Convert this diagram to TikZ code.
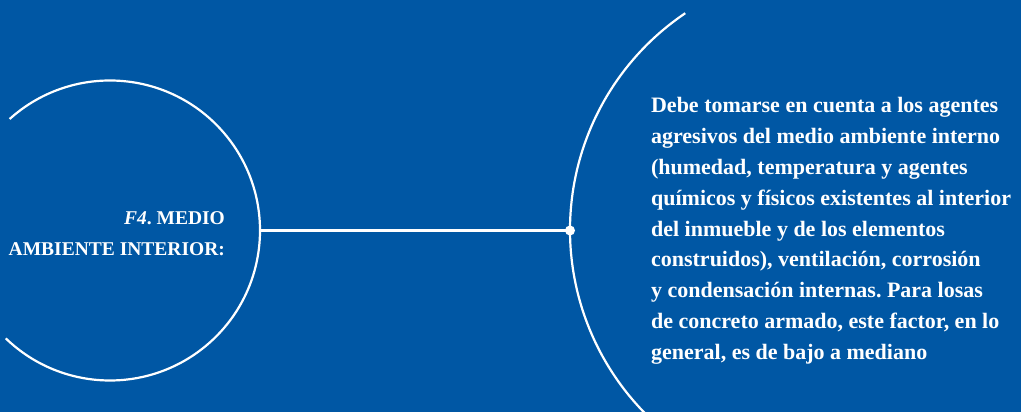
\documentclass[tikz,border=0pt]{standalone}
\usepackage{fontspec}
\setmainfont{Liberation Serif}
\frenchspacing
\definecolor{fondo}{RGB}{0,87,164}
\begin{document}
\begin{tikzpicture}[x=1pt, y=1pt, line width=2.2pt]
  % fondo
  \fill[fondo] (0,0) rectangle (1021,412);
  \useasboundingbox (0,0) rectangle (1021,412);
  \clip (0,0) rectangle (1021,412);
  % arco izquierdo
  \draw[white] (110,181.5) ++(132:150) arc (132:-134:150);
  % arco derecho
  \draw[white] (831.5,182) ++(124:261.5) arc (124:226:261.5);
  % conector
  \coordinate (izq) at (260,181.5);
  \coordinate (der) at (570,181.5);
  \draw[white] (izq) -- (der);
  \fill[white] (der) circle (5);
  % textos
  \node[anchor=north east, align=right, text=white, inner sep=0pt,
        font=\fontsize{19.5}{31}\selectfont\bfseries] (titulo) at (226,202)
    {\textit{F4}. MEDIO\\AMBIENTE INTERIOR:};
  \node[anchor=north west, align=left, text=white, inner sep=0pt,
        font=\fontsize{22}{30.8}\selectfont\bfseries] (texto) at (650,315.5)
    {Debe tomarse en cuenta a los agentes\\
     agresivos del medio ambiente interno\\
     (humedad, temperatura y agentes\\
     químicos y físicos existentes al interior\\
     del inmueble y de los elementos\\
     construidos), ventilación, corrosión\\
     y condensación internas. Para losas\\
     de concreto armado, este factor, en lo\\
     general, es de bajo a mediano};
\end{tikzpicture}
\end{document}
